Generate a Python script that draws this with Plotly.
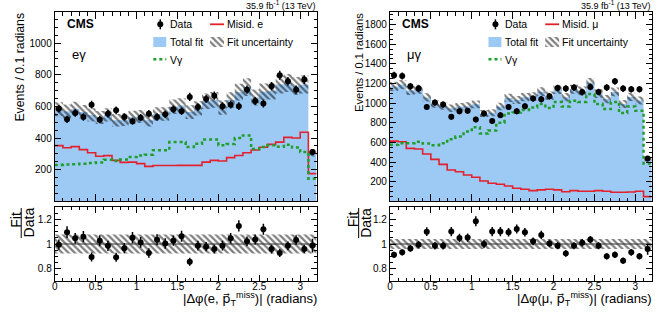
import numpy as np
import plotly.graph_objects as go

W, H = 658, 312

# ---------------- data ----------------
edges = np.round(np.arange(0, 3.2001, 0.1), 2)          # bin edges 0 .. 3.2
centers = np.round(edges[:-1] + 0.05, 3)

# e-gamma channel
data_e = [585, 518, 558, 533, 611, 516, 554, 575, 533, 506, 529, 554, 533, 550, 582, 569,
          660, 596, 647, 668, 601, 611, 601, 706, 634, 618, 727, 797, 759, 706, 770, 311]
fit_e = [582, 568, 584, 565, 546, 530, 546, 513, 515, 532, 536, 513, 552, 552, 598, 605,
         564, 588, 633, 641, 593, 640, 690, 722, 657, 692, 697, 738, 748, 729, 738, 307]
misid_e = [352, 339, 346, 327, 307, 285, 289, 259, 246, 248, 238, 221, 226, 226, 226, 227,
           227, 227, 248, 259, 255, 276, 290, 307, 324, 342, 360, 374, 404, 400, 437, 175]
vg_e = [230, 232, 234, 238, 242, 246, 262, 255, 265, 280, 290, 295, 322, 322, 375, 375,
        343, 364, 390, 390, 354, 362, 400, 416, 330, 343, 354, 345, 358, 340, 311, 143]
unc_e = 0.077

# mu-gamma channel
data_m = [1283, 1276, 1171, 1148, 961, 1006, 985, 860, 918, 921, 833, 894, 819, 877, 961, 918,
          968, 1046, 1039, 1070, 1154, 1148, 1158, 1112, 1165, 1113, 1158, 1222, 1148, 1141, 1141, 437]
fit_m = [1170, 1189, 1129, 1142, 1058, 992, 971, 947, 963, 969, 988, 894, 902, 966, 1053, 1031,
         1061, 1069, 1116, 1075, 1138, 1060, 1142, 1124, 1207, 1097, 1041, 1114, 991, 1063, 1026, 419]
misid_m = [613, 606, 539, 532, 481, 427, 376, 319, 301, 268, 245, 207, 184, 173, 156, 133,
           123, 109, 116, 123, 116, 98, 109, 102, 102, 109, 102, 92, 92, 95, 102, 48]
vg_m = [575, 590, 592, 606, 588, 572, 590, 632, 660, 710, 755, 690, 722, 800, 895, 905,
        930, 955, 990, 950, 1012, 965, 1025, 1012, 1092, 990, 940, 1012, 900, 965, 922, 385]
unc_m = 0.04

yticks_e = [200, 400, 600, 800, 1000]
yticks_m = [200, 400, 600, 800, 1000, 1200, 1400, 1600, 1800]
xticks = [0, 0.5, 1, 1.5, 2, 2.5, 3]
rticks = [0.8, 1.0, 1.2]
rticktext = ["0.8", "1", "1.2"]

# ---------------- style ----------------
BLUE = "#9dcaf4"
RED = "#e3212d"
GREEN = "#1f9e2c"
FONT = "Liberation Sans, Arial, sans-serif"
PVEC = "<span style=\"font-family:DejaVu Sans\">p\u20d7</span>"


def px(x):
    return x / W


def py(y):
    return 1 - y / H


def step(v):
    v = list(v)
    return v + [v[-1]]


fig = go.Figure()

MAIN_TOP, MAIN_BOT = 12.3, 201.3
RAT_TOP, RAT_BOT = 207.3, 280.7

panels = [
    dict(data=data_e, fit=fit_e, mis=misid_e, vg=vg_e, unc=unc_e, ymax=1195, yt=yticks_e,
         L=52.0, R=315.0, ax=("x", "y"), rx=("x2", "y2"), ax_n=("xaxis", "yaxis"),
         rx_n=("xaxis2", "yaxis2"), chan="eγ", mis_lab="Misid. e",
         xtitle="|Δφ(e, " + PVEC + "<sub>T</sub><sup>miss</sup>)| (radians)",
         ytitle_x=17.5, ytitle_size=12.3, frac=(12.3, 26.0, 18.3)),
    dict(data=data_m, fit=fit_m, mis=misid_m, vg=vg_m, unc=unc_m, ymax=1925, yt=yticks_m,
         L=388.7, R=651.7, ax=("x3", "y3"), rx=("x4", "y4"), ax_n=("xaxis3", "yaxis3"),
         rx_n=("xaxis4", "yaxis4"), chan="μγ", mis_lab="Misid. μ",
         xtitle="|Δφ(μ, " + PVEC + "<sub>T</sub><sup>miss</sup>)| (radians)",
         ytitle_x=357.5, ytitle_size=11.2, frac=(351.3, 364.0, 357.3)),
]

hatch = dict(shape="\\", fgcolor="#000000", bgcolor="rgba(0,0,0,0)", size=4.5, solidity=0.5)
annotations = []
shapes = []

for p in panels:
    xa, ya = p["ax"]
    xr, yr = p["rx"]
    fit = np.array(p["fit"], dtype=float)
    data = np.array(p["data"], dtype=float)
    u = p["unc"]

    # ---- main panel ----
    fig.add_trace(go.Scatter(x=edges, y=step(fit), mode="lines", line=dict(width=0, shape="hv"),
                             fill="tozeroy", fillcolor=BLUE, xaxis=xa, yaxis=ya, hoverinfo="skip"))
    fig.add_trace(go.Scatter(x=edges, y=step(fit * (1 - u)), mode="lines",
                             line=dict(width=0, shape="hv"), xaxis=xa, yaxis=ya, hoverinfo="skip"))
    fig.add_trace(go.Scatter(x=edges, y=step(fit * (1 + u)), mode="lines",
                             line=dict(width=0, shape="hv"), fill="tonexty",
                             fillcolor="rgba(0,0,0,0)", fillpattern=hatch,
                             xaxis=xa, yaxis=ya, hoverinfo="skip"))
    fig.add_trace(go.Scatter(x=edges, y=step(p["mis"]), mode="lines",
                             line=dict(color=RED, width=1.6, shape="hv"), xaxis=xa, yaxis=ya))
    fig.add_trace(go.Scatter(x=edges, y=step(p["vg"]), mode="lines",
                             line=dict(color=GREEN, width=2.5, shape="hv", dash="dot"),
                             xaxis=xa, yaxis=ya))
    fig.add_trace(go.Scatter(x=centers, y=data, mode="markers",
                             marker=dict(color="black", size=6),
                             error_y=dict(type="data", array=np.sqrt(data), color="black",
                                          thickness=1.5, width=0),
                             xaxis=xa, yaxis=ya))

    # ---- ratio panel ----
    ratio = fit / data
    rerr = ratio * np.sqrt(data) / data
    fig.add_trace(go.Scatter(x=[0, 3.2], y=[1 - u, 1 - u], mode="lines", line=dict(width=0),
                             xaxis=xr, yaxis=yr, hoverinfo="skip"))
    fig.add_trace(go.Scatter(x=[0, 3.2], y=[1 + u, 1 + u], mode="lines", line=dict(width=0),
                             fill="tonexty", fillcolor="rgba(0,0,0,0)", fillpattern=hatch,
                             xaxis=xr, yaxis=yr, hoverinfo="skip"))
    fig.add_trace(go.Scatter(x=[0, 3.2], y=[1, 1], mode="lines",
                             line=dict(color="#333333", width=1.2), xaxis=xr, yaxis=yr))
    fig.add_trace(go.Scatter(x=centers, y=ratio, mode="markers",
                             marker=dict(color="black", size=6),
                             error_y=dict(type="data", array=rerr, color="black",
                                          thickness=1.5, width=0),
                             xaxis=xr, yaxis=yr))

    # ---- axes ----
    dom_x = [px(p["L"]), px(p["R"])]
    common = dict(showline=True, linecolor="black", linewidth=1, mirror="allticks",
                  ticks="inside", tickcolor="black", tickwidth=1, showgrid=False,
                  zeroline=False, tickfont=dict(family=FONT, size=10, color="black"))
    fig.update_layout(**{
        p["ax_n"][0]: dict(common, domain=dom_x, anchor=ya, range=[0, 3.2],
                           tickmode="array", tickvals=xticks, showticklabels=False, ticklen=7,
                           minor=dict(ticks="inside", ticklen=3.5, tickmode="linear", tick0=0,
                                      dtick=0.1, tickcolor="black")),
        p["ax_n"][1]: dict(common, domain=[py(MAIN_BOT), py(MAIN_TOP)], anchor=xa,
                           range=[0, p["ymax"]], tickmode="array", tickvals=p["yt"],
                           ticklen=6,
                           minor=dict(ticks="inside", ticklen=3, tickmode="linear", tick0=0,
                                      dtick=50, tickcolor="black")),
        p["rx_n"][0]: dict(common, domain=dom_x, anchor=yr, range=[0, 3.2],
                           tickmode="array", tickvals=xticks, ticklen=6,
                           ticklabelstandoff=-4,
                           minor=dict(ticks="inside", ticklen=3, tickmode="linear", tick0=0,
                                      dtick=0.1, tickcolor="black")),
        p["rx_n"][1]: dict(common, domain=[py(RAT_BOT), py(RAT_TOP)], anchor=xr,
                           range=[0.7, 1.3], tickmode="array", tickvals=rticks,
                           ticktext=rticktext, ticklen=6,
                           minor=dict(ticks="inside", ticklen=3, tickmode="linear", tick0=0.7,
                                      dtick=0.05, tickcolor="black")),
    })

    L, R = p["L"], p["R"]

    def ann(x, y, text, size, xanchor="left", yanchor="middle", angle=0):
        annotations.append(dict(x=px(x), y=py(y), xref="paper", yref="paper", text=text,
                                showarrow=False, xanchor=xanchor, yanchor=yanchor,
                                textangle=angle, borderpad=0,
                                font=dict(family=FONT, size=size, color="black")))

    ann(L + 11, 24, "<b>CMS</b>", 12)
    ann(L + 16, 54, p["chan"], 13)
    ann(R, 5, "35.9 fb<sup>-1</sup> (13 TeV)", 9, xanchor="right")
    ann(p["ytitle_x"], 11.7, "Events / 0.1 radians", p["ytitle_size"], xanchor="center",
        yanchor="top", angle=-90)
    ann(R + 1, 299, p["xtitle"], 13, xanchor="right")
    fx, dx, bx = p["frac"]
    ann(fx, 219.5, "Fit", 14, xanchor="center", angle=-90)
    ann(dx, 222.5, "Data", 14, xanchor="center", angle=-90)
    shapes.append(dict(type="line", xref="paper", yref="paper", x0=px(bx), x1=px(bx),
                       y0=py(208), y1=py(238), line=dict(color="black", width=1)))

    # legend texts
    ann(L + 115, 24.5, "Data", 10.5)
    ann(L + 172, 24.5, p["mis_lab"], 10.5)
    ann(L + 115, 42.5, "Total fit", 10.5)
    ann(L + 172, 42.5, "Fit uncertainty", 10.5)
    ann(L + 115, 60, "Vγ", 10.5)

    # legend glyphs (pixel overlay axes)
    fig.add_trace(go.Scatter(x=[L + 106], y=[24.3], mode="markers",
                             marker=dict(color="black", size=6),
                             error_y=dict(type="constant", value=5, color="black",
                                          thickness=1.5, width=0),
                             xaxis="x5", yaxis="y5"))
    fig.add_trace(go.Scatter(x=[L + 156, L + 170], y=[24.3, 24.3], mode="lines",
                             line=dict(color=RED, width=1.8), xaxis="x5", yaxis="y5"))
    fig.add_trace(go.Scatter(x=[L + 99, L + 112, L + 112, L + 99, L + 99],
                             y=[37, 37, 47, 47, 37], mode="lines", line=dict(width=0),
                             fill="toself", fillcolor=BLUE, xaxis="x5", yaxis="y5"))
    fig.add_trace(go.Scatter(x=[L + 156, L + 170, L + 170, L + 156, L + 156],
                             y=[37, 37, 47, 47, 37], mode="lines", line=dict(width=0),
                             fill="toself", fillcolor="rgba(0,0,0,0)", fillpattern=hatch,
                             xaxis="x5", yaxis="y5"))
    fig.add_trace(go.Scatter(x=[L + 99, L + 112], y=[59.3, 59.3], mode="lines",
                             line=dict(color=GREEN, width=2.5, dash="dot"),
                             xaxis="x5", yaxis="y5"))

fig.update_layout(
    xaxis5=dict(domain=[0, 1], range=[0, W], visible=False, anchor="y5", fixedrange=True),
    yaxis5=dict(domain=[0, 1], range=[H, 0], visible=False, anchor="x5", fixedrange=True),
)

fig.update_layout(
    width=W, height=H, autosize=False,
    margin=dict(l=0, r=0, t=0, b=0, pad=0),
    paper_bgcolor="white", plot_bgcolor="rgba(0,0,0,0)",
    showlegend=False,
    annotations=annotations, shapes=shapes,
    font=dict(family=FONT, color="black"),
)

fig.write_html("out.html")
